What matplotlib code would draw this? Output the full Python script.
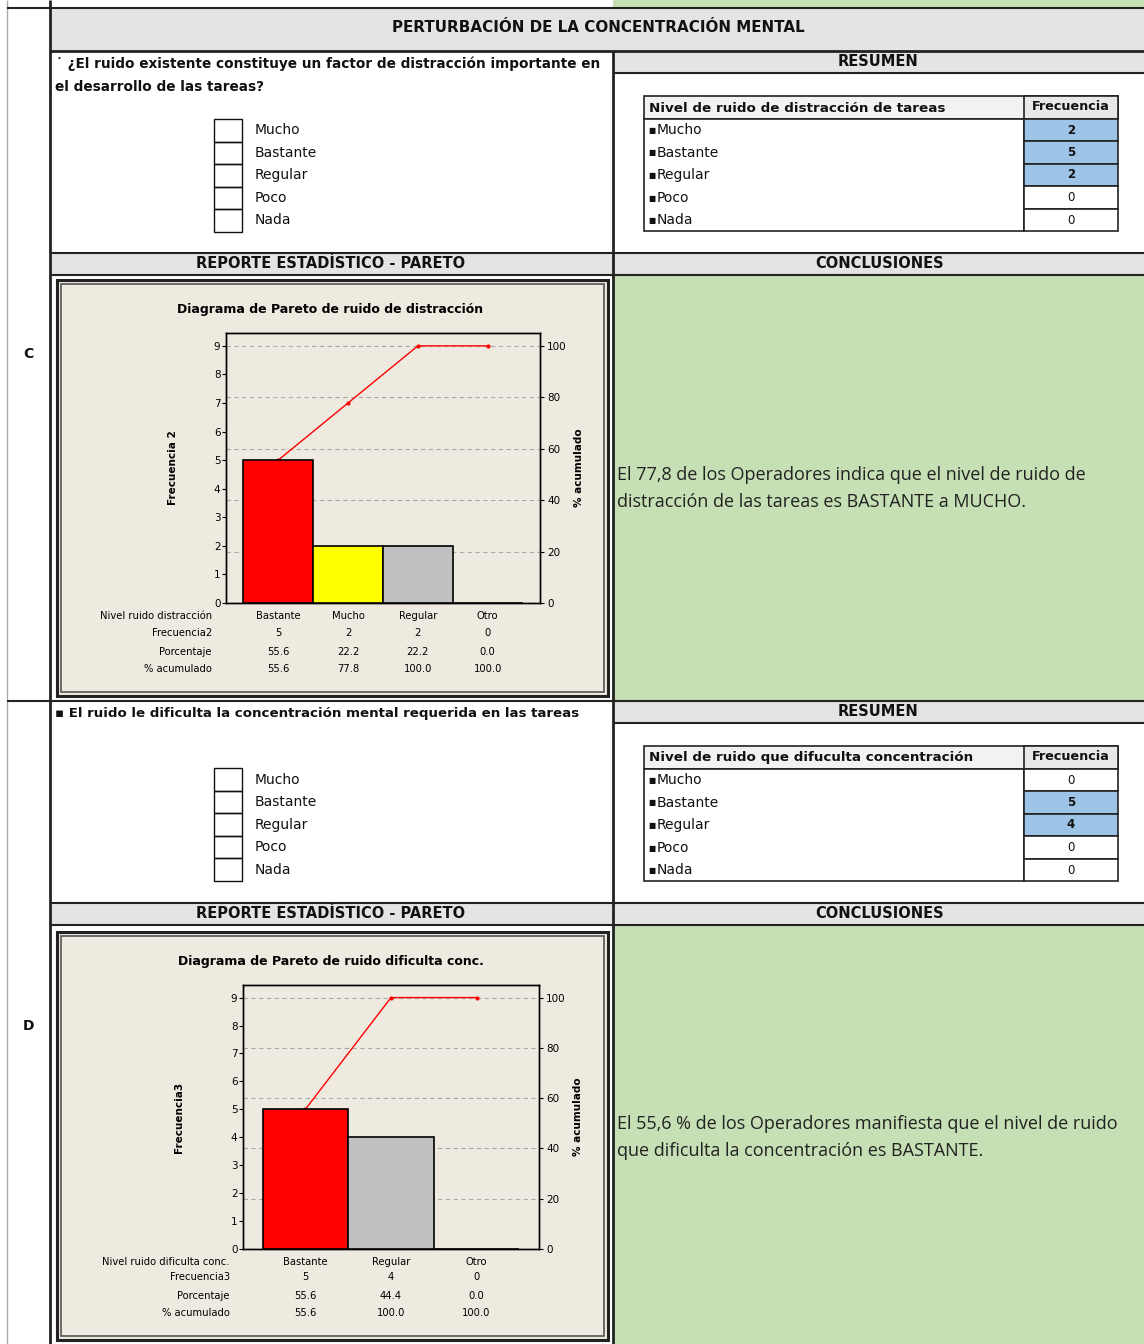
import numpy as np
import matplotlib
matplotlib.use("Agg")
import matplotlib.pyplot as plt
from matplotlib.patches import Rectangle
import matplotlib.transforms as mtransforms

################### data ###################
niveles = ['Mucho', 'Bastante', 'Regular', 'Poco', 'Nada']
resumen_c = [2, 5, 2, 0, 0]
resumen_d = [0, 5, 4, 0, 0]

cat_c = ['Bastante', 'Mucho', 'Regular', 'Otro']
freq_c = [5, 2, 2, 0]
pct_c = [55.6, 22.2, 22.2, 0.0]
cum_c = [55.6, 77.8, 100.0, 100.0]
colores_c = ['#ff0000', '#ffff00', '#c0c0c0', '#c0c0c0']

cat_d = ['Bastante', 'Regular', 'Otro']
freq_d = [5, 4, 0]
pct_d = [55.6, 44.4, 0.0]
cum_d = [55.6, 100.0, 100.0]
colores_d = ['#ff0000', '#c0c0c0', '#c0c0c0']

W, H = 1144, 1344
NARROW = ['Liberation Sans Narrow', 'DejaVu Sans']
GRIS = '#e4e4e4'
VERDE = '#c6dfb4'
BEIGE = '#eeeae0'
AZUL = '#9dc3e6'

fig = plt.figure(figsize=(W / 100, H / 100), dpi=100)
bg = fig.add_axes([0, 0, 1, 1], zorder=0)
bg.set_xlim(0, W)
bg.set_ylim(H, 0)
bg.axis('off')


def rect(x0, y0, x1, y1, fc='none', ec='none', lw=1.0):
    bg.add_patch(Rectangle((x0, y0), x1 - x0, y1 - y0, facecolor=fc, edgecolor=ec, lw=lw))


def hline(y, x0, x1, lw=1.5, c='#222222'):
    bg.plot([x0, x1], [y, y], color=c, lw=lw, solid_capstyle='butt')


def vline(x, y0, y1, lw=1.5, c='#222222'):
    bg.plot([x, x], [y0, y1], color=c, lw=lw, solid_capstyle='butt')


def txt(x, y, s, size=9, weight='normal', ha='left', family=None, color='#111111'):
    bg.text(x, y, s, fontsize=size, fontweight=weight, ha=ha, va='center',
            family=family or ['DejaVu Sans'], color=color)


################### bands / backgrounds ###################
rect(613, 0, W, 7, fc=VERDE)
rect(50, 8, W, 51, fc=GRIS)
rect(613, 52, W, 73, fc=GRIS)
rect(50, 253, W, 275, fc=GRIS)
rect(613, 275, W, 701, fc=VERDE)
rect(613, 702, W, 723, fc=GRIS)
rect(50, 903, W, 925, fc=GRIS)
rect(613, 925, W, H, fc=VERDE)

# grid lines of the form
vline(7, 0, H, lw=1.0, c='#aaaaaa')
vline(50, 0, H, lw=2)
vline(613, 51, H, lw=2)
hline(7.5, 7, W, lw=1.5)
hline(51, 50, W, lw=2)
hline(73, 613, W, lw=1.5)
hline(253, 50, W, lw=1.5)
hline(275, 50, W, lw=1.5)
hline(701, 7, W, lw=1.5)
hline(723, 613, W, lw=1.5)
hline(903, 50, W, lw=1.5)
hline(925, 50, W, lw=1.5)

txt(598, 28, 'PERTURBACIÓN DE LA CONCENTRACIÓN MENTAL', size=10.9, weight='bold', ha='center')
txt(28, 354, 'C', size=10, weight='bold', ha='center')
txt(28, 1026, 'D', size=10, weight='bold', ha='center')

for y0 in (0, 650):
    txt(878, 62 + y0, 'RESUMEN', size=10.5, weight='bold', ha='center', family=NARROW)
    txt(331, 264 + y0, 'REPORTE ESTADÍSTICO - PARETO', size=10.5, weight='bold', ha='center', family=NARROW)
    txt(880, 264 + y0, 'CONCLUSIONES', size=10.5, weight='bold', ha='center', family=NARROW)

txt(56, 64, '˙ ¿El ruido existente constituye un factor de distracción importante en', size=9.8, weight='bold')
txt(55, 87, 'el desarrollo de las tareas?', size=9.8, weight='bold')
txt(55, 714, '▪ El ruido le dificulta la concentración mental requerida en las tareas', size=9.6, weight='bold')


def casillas(ytop):
    for i, n in enumerate(niveles):
        y = ytop + i * 22.5
        rect(214, y, 242, y + 22.5, ec='#111111', lw=1.0)
        txt(255, y + 11.5, n, size=10, family=NARROW)


casillas(119)
casillas(768)


def resumen(ytop, titulo, valores):
    rh = 22.5
    x0, xs, x1 = 644, 1024, 1118
    rect(x0, ytop, x1, ytop + rh, fc='#f2f2f2', ec='#222222', lw=1.2)
    rect(xs, ytop, x1, ytop + rh, fc='#e8e8e8', ec='#222222', lw=1.2)
    txt(649, ytop + 12, titulo, size=9.7, weight='bold')
    txt(1071, ytop + 11, 'Frecuencia', size=9.2, weight='bold', ha='center')
    yb = ytop + rh + 5 * rh
    rect(x0, ytop + rh, xs, yb, fc='white', ec='#222222', lw=1.2)
    for i, (n, v) in enumerate(zip(niveles, valores)):
        y = ytop + rh + i * rh
        fc = AZUL if v > 0 else 'white'
        rect(xs, y, x1, y + rh, fc=fc, ec='#222222', lw=1.2)
        txt(648, y + 12, '■', size=5.5)
        txt(657, y + 12, n, size=10, family=NARROW)
        txt(1071, y + 11.5, str(v), size=8.5, weight='bold' if v > 0 else 'normal', ha='center')


resumen(96, 'Nivel de ruido de distracción de tareas', resumen_c)
resumen(746, 'Nivel de ruido que difuculta concentración', resumen_d)

CONC = ['Open Sans']
txt(617, 475, 'El 77,8 de los Operadores indica que el nivel de ruido de', size=13, family=CONC, color='#222222')
txt(617, 502, 'distracción de las tareas es BASTANTE a MUCHO.', size=13, family=CONC, color='#222222')
txt(617, 1124, 'El 55,6 % de los Operadores manifiesta que el nivel de ruido', size=13, family=CONC, color='#222222')
txt(617, 1151, 'que dificulta la concentración es BASTANTE.', size=13, family=CONC, color='#222222')


################### pareto charts ###################
def pareto(frame, box, cats, freq, pct, cum, colores, titulo, nombre, ylab, rowx, ylpad):
    fx0, fy0, fx1, fy1 = frame
    rect(fx0, fy0, fx1, fy1, fc=BEIGE, ec='#222222', lw=2.2)
    rect(fx0 + 4, fy0 + 4, fx1 - 4, fy1 - 4, fc='none', ec='#555555', lw=1.2)
    bx0, by0, bx1, by1 = box
    ax = fig.add_axes([bx0 / W, 1 - by1 / H, (bx1 - bx0) / W, (by1 - by0) / H], zorder=2)
    n = len(cats)
    x = np.arange(n)
    pad = 0.75 if n == 4 else 0.73
    ax.bar(x, freq, width=1.0, color=colores, edgecolor='black', linewidth=1.2, zorder=3)
    ax.set_xlim(-pad, n - 1 + pad)
    ax.set_ylim(0, 9.45)
    ax.set_yticks(range(10))
    ax.set_xticks([])
    ax.tick_params(axis='y', labelsize=7.5, length=3, pad=1)
    ax2 = ax.twinx()
    ax2.set_ylim(0, 9.45 * 100 / 9)
    ax2.set_yticks([0, 20, 40, 60, 80, 100])
    ax2.tick_params(axis='y', labelsize=7.5, length=3, pad=2)
    for g in [20, 40, 60, 80, 100]:
        ax2.axhline(g, color='#aaaaaa', ls=(0, (4, 3)), lw=0.8, zorder=1)
    ax2.plot(x, cum, color='#ff0000', lw=1.0, marker='o', ms=2, zorder=4)
    ax.set_zorder(3)
    ax.patch.set_visible(False)
    ax2.set_zorder(2)
    ax2.patch.set_facecolor('white')
    ax2.set_ylabel('% acumulado', fontsize=7.5, fontweight='bold', family=NARROW, labelpad=5)
    for a in (ax, ax2):
        for s in a.spines.values():
            s.set_linewidth(1.0)
    ax.set_ylabel(ylab, fontsize=7.5, fontweight='bold', family=NARROW, labelpad=ylpad)
    bg.text((fx0 + fx1) / 2 - 2, box[1] - 23, titulo, fontsize=9, fontweight='bold',
            ha='center', va='center', family=NARROW)
    trans = mtransforms.blended_transform_factory(ax.transData, bg.transData)
    filas = [(nombre, cats), (ylab.replace(' ', ''), freq),
             ('Porcentaje', ['%.1f' % p for p in pct]),
             ('% acumulado', ['%.1f' % c for c in cum])]
    ys = [by1 + 13, by1 + 30, by1 + 49, by1 + 66] if n == 4 else [by1 + 13, by1 + 28, by1 + 47, by1 + 64]
    for (lab, vals), yy in zip(filas, ys):
        bg.text(rowx, yy, lab, fontsize=7.2, ha='right', va='center', family=NARROW)
        for xi, v in zip(x, vals):
            bg.text(xi, yy, str(v), fontsize=7.2, ha='center', va='center', family=NARROW, transform=trans)
    return ax


pareto((57, 280, 608, 696), (226, 333, 540, 603), cat_c, freq_c, pct_c, cum_c, colores_c,
       'Diagrama de Pareto de ruido de distracción', 'Nivel ruido distracción', 'Frecuencia 2', 212, 26)
pareto((57, 932, 608, 1340), (243, 985, 539, 1249), cat_d, freq_d, pct_d, cum_d, colores_d,
       'Diagrama de Pareto de ruido dificulta conc.', 'Nivel ruido dificulta conc.', 'Frecuencia3', 230, 34)

fig.savefig('out.png', dpi=100)
